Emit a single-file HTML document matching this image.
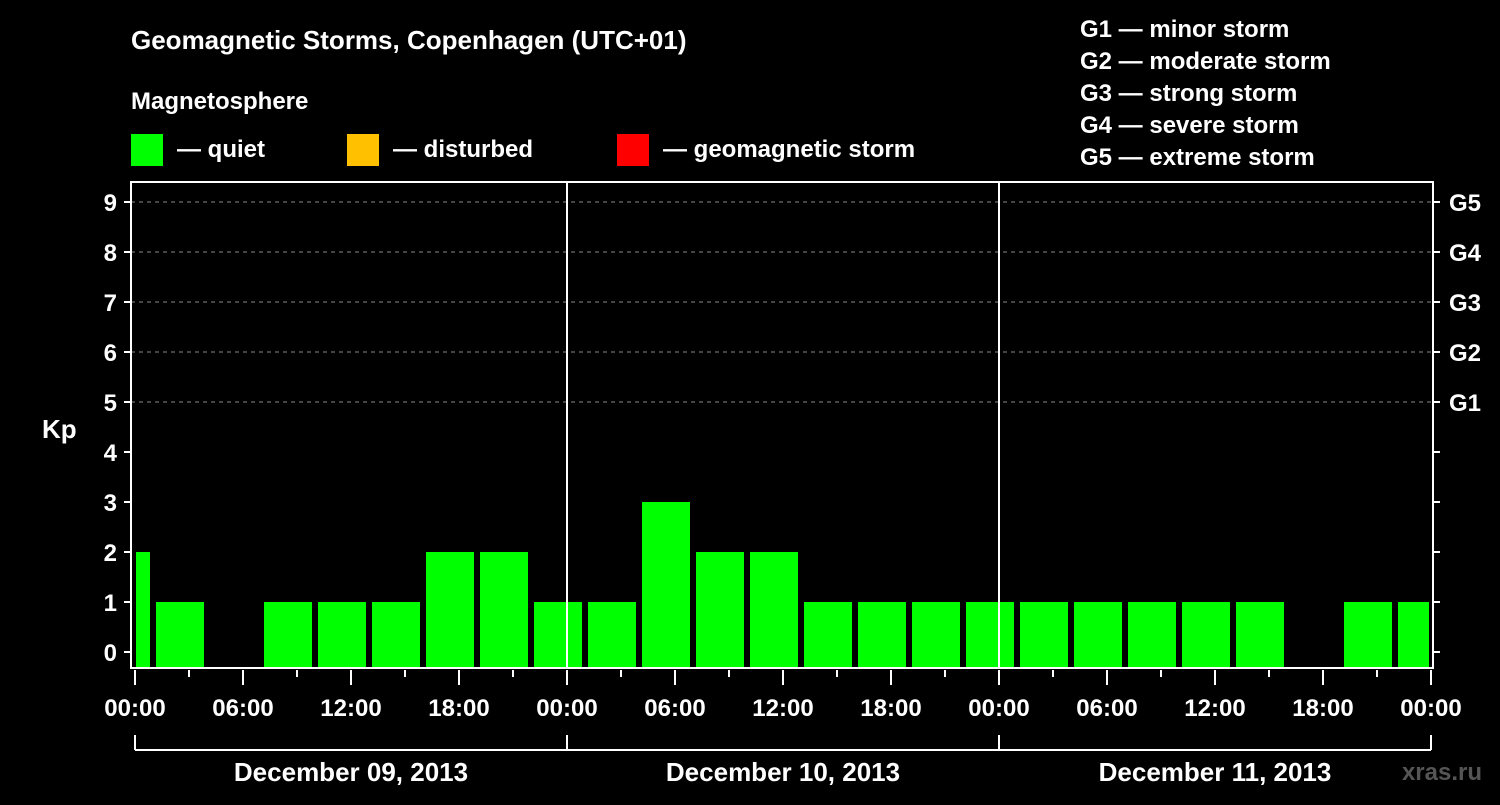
<!DOCTYPE html>
<html><head><meta charset="utf-8"><style>
body{margin:0;background:#000;width:1500px;height:800px;overflow:hidden}
svg text{font-family:"Liberation Sans",Arial,sans-serif;font-weight:bold;fill:#fff}
</style></head><body>
<svg id="c" width="1500" height="800" xmlns="http://www.w3.org/2000/svg">
<text x="131" y="49" font-size="26">Geomagnetic Storms, Copenhagen (UTC+01)</text>
<text x="131" y="109" font-size="24">Magnetosphere</text>
<g><rect x="131" y="134" width="32" height="32" fill="#00ff00"/><text x="177" y="157" font-size="24">— quiet</text></g>
<g><rect x="347" y="134" width="32" height="32" fill="#ffc000"/><text x="393" y="157" font-size="24">— disturbed</text></g>
<g><rect x="617" y="134" width="32" height="32" fill="#ff0000"/><text x="663" y="157" font-size="24">— geomagnetic storm</text></g>
<g font-size="24">
<text x="1080" y="37">G1 — minor storm</text>
<text x="1080" y="69">G2 — moderate storm</text>
<text x="1080" y="101">G3 — strong storm</text>
<text x="1080" y="133">G4 — severe storm</text>
<text x="1080" y="165">G5 — extreme storm</text>
</g>
<text x="42" y="438" font-size="26">Kp</text>
<text x="1482" y="780" font-size="24" fill="#555" style="fill:#555" text-anchor="end">xras.ru</text>
<g id="grid"></g><g id="bars"></g><g id="axes"></g>
</svg>
<script>
const kpValues=[2,1,0,1,1,1,2,2,1,1,3,2,2,1,1,1,1,1,1,1,1,1,0,1,1];
const yTicks=[0,1,2,3,4,5,6,7,8,9];
const gLabels=["G1","G2","G3","G4","G5"];
const xLabels=["00:00","06:00","12:00","18:00","00:00","06:00","12:00","18:00","00:00","06:00","12:00","18:00","00:00"];
const dayLabels=["December 09, 2013","December 10, 2013","December 11, 2013"];
const NS="http://www.w3.org/2000/svg";
const L=131,R=1433,T=182,B=668,X0=135,PXH=18;
const xs=h=>X0+h*PXH, ys=v=>652-v*50;
function mk(p,tag,a){const e=document.createElementNS(NS,tag);for(const k in a)e.setAttribute(k,a[k]);p.appendChild(e);return e;}
const grid=document.getElementById('grid'),bars=document.getElementById('bars'),ax=document.getElementById('axes');
for(let v=5;v<=9;v++){const l=mk(grid,'line',{x1:L,x2:R,y1:ys(v),y2:ys(v),stroke:'#888','stroke-dasharray':'4,4'});

}
kpValues.forEach((v,i)=>{if(v<=0)return;const h0=-2+i*3;let x1=xs(h0)+3,x2=xs(h0+3)-3;x1=Math.max(x1,L+5);x2=Math.min(x2,R-4);
const c=v>=5?'#ff0000':(v>=4?'#ffc000':'#00ff00');
const r=mk(bars,'rect',{x:x1,y:ys(v),width:x2-x1,height:B-1-ys(v),fill:c});

});
const fr=mk(ax,'rect',{x:L,y:T,width:R-L,height:B-T,fill:'none',stroke:'#fff','stroke-width':2});


[1,2].forEach(d=>{const l=mk(ax,'line',{x1:xs(d*24),x2:xs(d*24),y1:T,y2:B,stroke:'#fff','stroke-width':2});

});
yTicks.forEach(v=>{mk(ax,'line',{x1:L-7,x2:L,y1:ys(v),y2:ys(v),stroke:'#fff','stroke-width':2});
mk(ax,'line',{x1:R,x2:R+7,y1:ys(v),y2:ys(v),stroke:'#fff','stroke-width':2});
const t=mk(ax,'text',{x:117,y:ys(v)+9,'font-size':24,'text-anchor':'end'});t.textContent=v;

});
gLabels.forEach((g,i)=>{const t=mk(ax,'text',{x:1449,y:ys(5+i)+9,'font-size':24});t.textContent=g;

});
for(let h=0;h<=72;h+=3){mk(ax,'line',{x1:xs(h),x2:xs(h),y1:B+2,y2:h%6==0?B+17:B+9,stroke:'#fff','stroke-width':2});}
xLabels.forEach((s,i)=>{const t=mk(ax,'text',{x:xs(i*6),y:716,'font-size':24,'text-anchor':'middle'});t.textContent=s;

});
mk(ax,'line',{x1:xs(0),x2:xs(72),y1:750,y2:750,stroke:'#fff','stroke-width':2});
for(let d=0;d<=3;d++)mk(ax,'line',{x1:xs(d*24),x2:xs(d*24),y1:735,y2:750,stroke:'#fff','stroke-width':2});
dayLabels.forEach((s,i)=>{const t=mk(ax,'text',{x:xs(i*24+12),y:781,'font-size':26,'text-anchor':'middle'});t.textContent=s;

});
</script>
</body></html>
